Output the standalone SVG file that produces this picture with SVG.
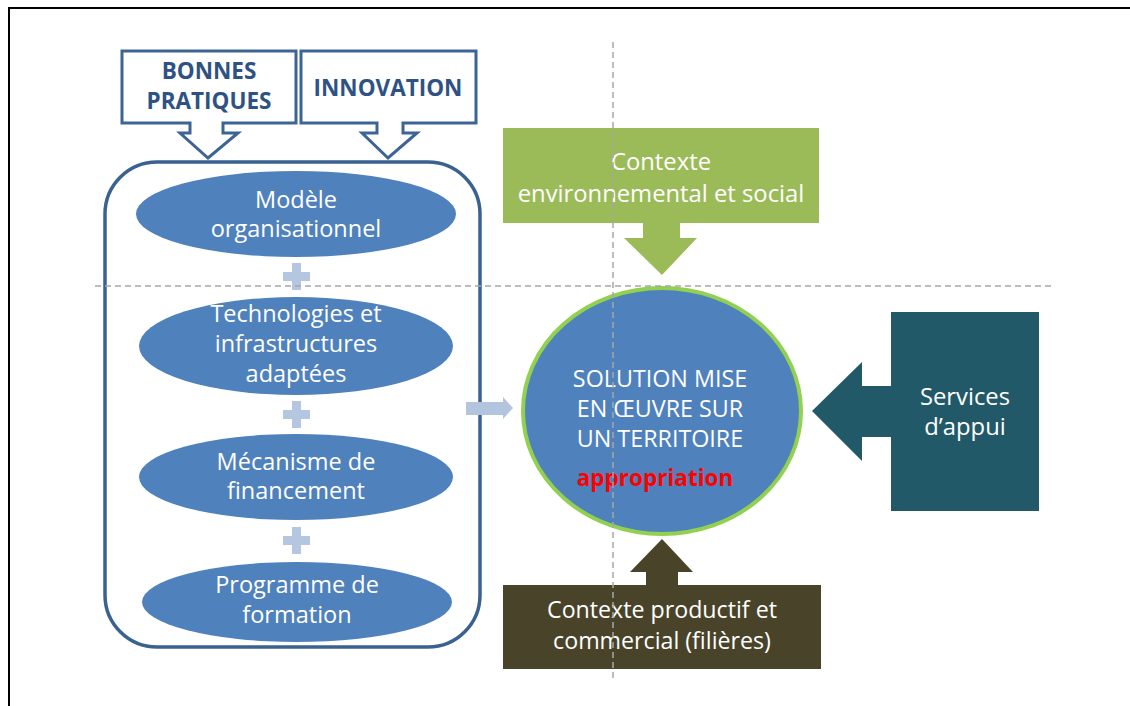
<svg xmlns="http://www.w3.org/2000/svg" width="1130" height="706" viewBox="0 0 1130 706">
  <defs>
    <style>
      .frame { stroke: #000; stroke-width: 2; fill: none; }
      .callout { fill: #fff; stroke: #3C6494; stroke-width: 3; stroke-linejoin: miter; }
      .callout-text { font-family: "Open Sans", "Liberation Sans", sans-serif; font-weight: bold; font-size: 22.5px; fill: #2E5283; text-anchor: middle; }
      .container { fill: #fff; stroke: #3A6290; stroke-width: 3.5; }
      .oval { fill: #4F81BD; }
      .oval-text { font-family: "Open Sans", "Liberation Sans", sans-serif; font-size: 23.5px; fill: #fff; text-anchor: middle; }
      .plus { fill: #B4C6E0; }
      .core { fill: #4F81BD; stroke: #92D050; stroke-width: 4; }
      .core-text { font-family: "Open Sans", "Liberation Sans", sans-serif; font-size: 23.3px; fill: #fff; text-anchor: middle; }
      .core-key { font-family: "Open Sans", "Liberation Sans", sans-serif; font-weight: bold; font-size: 22.5px; fill: #FF0000; text-anchor: middle; }
      .box-text { font-family: "Open Sans", "Liberation Sans", sans-serif; font-size: 23.8px; fill: #fff; text-anchor: middle; }
      .box-text-sm { font-family: "Open Sans", "Liberation Sans", sans-serif; font-size: 23.2px; fill: #fff; text-anchor: middle; }
      .guide { stroke: #A6A6A6; stroke-width: 1.5; stroke-dasharray: 6 4; fill: none; }
    </style>
  </defs>

  <rect width="1130" height="706" fill="#fff"/>
  <!-- page frame (top and left edges) -->
  <path class="frame" d="M9 706 V8 H1130"/>

  <!-- callout: bonnes pratiques -->
  <g id="bonnes-pratiques">
    <path class="callout" d="M122 51 H296 V123 H223 V133 H238 L208 158 L180 133 H190 V123 H122 Z"/>
    <text class="callout-text" x="209" y="79">BONNES</text>
    <text class="callout-text" x="209" y="109">PRATIQUES</text>
  </g>

  <!-- callout: innovation -->
  <g id="innovation">
    <path class="callout" d="M301 51 H476 V123 H403 V133 H417 L388 158 L362 133 H377 V123 H301 Z"/>
    <text class="callout-text" x="388" y="96">INNOVATION</text>
  </g>

  <!-- container with the four components -->
  <g id="composantes">
    <rect class="container" x="105" y="162" width="375" height="485" rx="52" ry="52"/>
  </g>

  <g id="modele">
    <ellipse class="oval" cx="296" cy="214" rx="160" ry="43"/>
    <text class="oval-text" x="296" y="208">Modèle</text>
    <text class="oval-text" x="296" y="237">organisationnel</text>
  </g>

  <g id="technologies">
    <ellipse class="oval" cx="296" cy="346" rx="157" ry="49"/>
    <text class="oval-text" x="296" y="322">Technologies et</text>
    <text class="oval-text" x="296" y="352">infrastructures</text>
    <text class="oval-text" x="296" y="382">adaptées</text>
  </g>

  <g id="financement">
    <ellipse class="oval" cx="296" cy="477" rx="157" ry="43"/>
    <text class="oval-text" x="296" y="470">Mécanisme de</text>
    <text class="oval-text" x="296" y="499">financement</text>
  </g>

  <g id="formation">
    <ellipse class="oval" cx="297" cy="602" rx="155" ry="40"/>
    <text class="oval-text" x="297" y="593">Programme de</text>
    <text class="oval-text" x="297" y="623">formation</text>
  </g>

  <!-- plus signs between components -->
  <g id="plus-signes">
    <path class="plus" d="M292 263 h9 v9 h9 v9 h-9 v9 h-9 v-9 h-9 v-9 h9 Z"/>
    <path class="plus" d="M292 401 h9 v9 h9 v9 h-9 v9 h-9 v-9 h-9 v-9 h9 Z"/>
    <path class="plus" d="M292 527 h9 v9 h9 v9 h-9 v9 h-9 v-9 h-9 v-9 h9 Z"/>
  </g>

  <!-- central solution -->
  <g id="solution">
    <ellipse class="core" cx="662" cy="411" rx="139" ry="123"/>
    <text class="core-text" x="660" y="387">SOLUTION MISE</text>
    <text class="core-text" x="660" y="417">EN ŒUVRE SUR</text>
    <text class="core-text" x="660" y="447">UN TERRITOIRE</text>
    <text class="core-key" x="655" y="486">appropriation</text>
  </g>

  <!-- context: environment -->
  <g id="contexte-environnemental">
    <path fill="#9BBB59" d="M503 128 H819 V223 H680 V238 H697 L662 275 L624 238 H643 V223 H503 Z"/>
    <text class="box-text" x="661" y="170">Contexte</text>
    <text class="box-text" x="661" y="202">environnemental et social</text>
  </g>

  <!-- support services -->
  <g id="services-appui">
    <path fill="#215968" d="M891 312 H1039 V511 H891 V437 H862 V461 L812 411 L862 362 V386 H891 Z"/>
    <text class="box-text" x="965" y="405">Services</text>
    <text class="box-text" x="965" y="435">d’appui</text>
  </g>

  <!-- context: production and trade -->
  <g id="contexte-productif">
    <path fill="#494429" d="M503 585 H821 V669 H503 Z M646 585 V572 H630 L662 539 L693 572 H678 V585 Z"/>
    <text class="box-text-sm" x="662" y="618">Contexte productif et</text>
    <text class="box-text-sm" x="662" y="649">commercial (filières)</text>
  </g>

  <!-- connectors -->
  <g id="connecteurs">
    <path fill="#B3C4DE" d="M466 402 H503 V397 L513 408 L503 419 V415 H466 Z"/>
  </g>

  <!-- dashed guide axes -->
  <g id="axes">
    <line class="guide" x1="95" y1="286" x2="1055" y2="286"/>
    <line class="guide" x1="613" y1="42" x2="613" y2="678"/>
  </g>
</svg>
